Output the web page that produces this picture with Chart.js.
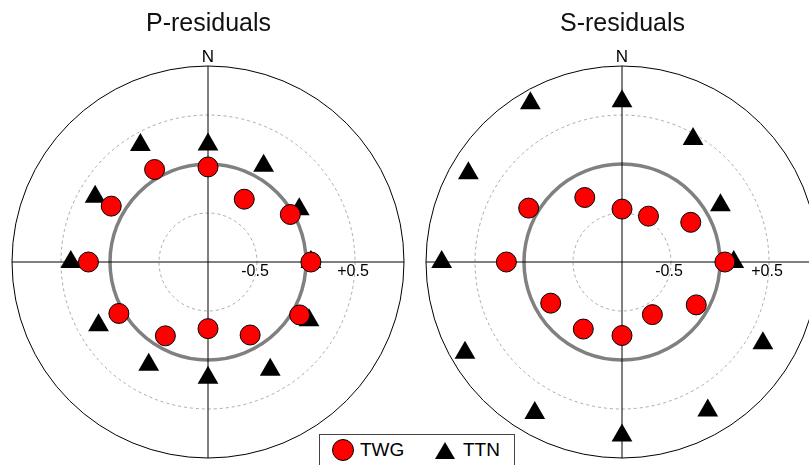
<!DOCTYPE html>
<html lang="en">
<head>
<meta charset="UTF-8" />
<title>P- and S-residuals</title>
<style>
  html, body {
    margin: 0;
    padding: 0;
    width: 809px;
    height: 465px;
    overflow: hidden;
    background: #fff;
    font-family: 'Liberation Sans', Arial, sans-serif;
  }
  canvas {
    position: absolute;
    top: 0;
  }
  #chartP { left: 0; }
  #chartS { left: 414px; }
  #legend {
    position: absolute;
    left: 319px;
    top: 434px;
    width: 194px;
    height: 40px;
    border: 1px solid #444;
    background: #fff;
  }
  #legend .dot {
    position: absolute;
    left: 12px;
    top: 4px;
    width: 20px;
    height: 20px;
    border-radius: 50%;
    background: #ff0000;
    border: 1px solid #000;
  }
  #legend .tri {
    position: absolute;
    left: 115px;
    top: 7px;
    width: 0;
    height: 0;
    border-left: 10px solid transparent;
    border-right: 10px solid transparent;
    border-bottom: 17px solid #000;
  }
  #legend .txt {
    position: absolute;
    top: 4px;
    font-size: 19px;
    line-height: 22px;
    color: #000;
  }
</style>
</head>
<body>
<canvas id="chartP" width="417" height="465"></canvas>
<canvas id="chartS" width="417" height="465"></canvas>
<div id="legend">
  <span class="dot"></span><span class="txt" style="left:40px">TWG</span>
  <span class="tri"></span><span class="txt" style="left:143px">TTN</span>
</div>
<script src="https://cdn.jsdelivr.net/npm/chart.js@4.4.0/dist/chart.umd.min.js"></script>
<script>
  // azimuth of each station (degrees from north)
  const azimuths = [0, 30, 60, 90, 120, 150, 180, 210, 240, 270, 300, 330];

  // P residuals
  const pTWG = [-0.03, -0.26, -0.03, 0.05, 0.08, -0.14, -0.32, -0.13, 0.05, 0.22, 0.14, 0.09];
  const pTTN = [0.20, 0.135, 0.075, 0.05, 0.19, 0.27, 0.18, 0.21, 0.29, 0.40, 0.33, 0.38];

  // S residuals
  const sTWG = [-0.46, -0.46, -0.19, 0.05, -0.125, -0.38, -0.25, -0.21, -0.16, 0.18, 0.10, -0.24];
  const sTTN = [0.64, 0.45, 0.16, 0.14, 0.66, 0.75, 0.77, 0.78, 0.85, 0.84, 0.81, 0.87];

  const tickValues = [-0.5, 0.5];
  const tickLabels = ['-0.5', '+0.5'];

  Chart.defaults.font.family = "'Liberation Sans', Arial, sans-serif";
  Chart.defaults.color = '#000';

  // N label and the -0.5 / +0.5 labels along the east axis
  const annotations = {
    id: 'annotations',
    beforeDatasetsDraw(chart) {
      const s = chart.scales.r;
      const ctx = chart.ctx;
      ctx.save();
      ctx.fillStyle = '#000';
      ctx.textAlign = 'center';
      ctx.textBaseline = 'middle';
      ctx.font = "17px 'Liberation Sans', Arial, sans-serif";
      ctx.fillText('N', s.xCenter, s.yCenter - s.drawingArea - 9);
      ctx.font = "16px 'Liberation Sans', Arial, sans-serif";
      tickValues.forEach((v, i) => {
        const d = s.getDistanceFromCenterForValue(v);
        ctx.fillText(tickLabels[i], s.xCenter + d - 2, s.yCenter + 10);
      });
      ctx.restore();
    }
  };

  function makeChart(id, title, twg, ttn) {
    return new Chart(document.getElementById(id), {
      type: 'radar',
      data: {
        labels: azimuths,
        datasets: [
          {
            label: 'TWG',
            data: twg,
            showLine: false,
            fill: false,
            borderColor: 'transparent',
            pointStyle: 'circle',
            pointRadius: 10,
            pointBackgroundColor: '#ff0000',
            pointBorderColor: '#000',
            pointBorderWidth: 1
          },
          {
            label: 'TTN',
            data: ttn,
            showLine: false,
            fill: false,
            borderColor: 'transparent',
            pointStyle: 'triangle',
            pointRadius: 12,
            pointBackgroundColor: '#000',
            pointBorderColor: '#000',
            pointBorderWidth: 0
          }
        ]
      },
      options: {
        responsive: false,
        animation: false,
        layout: { padding: { left: 12, right: 12, top: 0, bottom: 6 } },
        scales: {
          r: {
            min: -1,
            max: 1,
            startAngle: 0,
            ticks: { display: false, stepSize: 0.5 },
            pointLabels: { display: false },
            grid: {
              circular: true,
              color: (c) => {
                const v = c.tick ? c.tick.value : 0;
                if (v === -1) return 'transparent';
                if (v === 0) return '#808080';
                if (v === 1) return '#000';
                return '#aaa';
              },
              lineWidth: (c) => (c.tick && c.tick.value === 0 ? 3.5 : 1)
            },
            border: {
              dash: (c) => (c.tick && Math.abs(c.tick.value) === 0.5 ? [3, 3] : [])
            },
            angleLines: {
              color: (c) => (c.index % 3 === 0 ? '#000' : 'transparent'),
              lineWidth: 1
            }
          }
        },
        plugins: {
          legend: { display: false },
          tooltip: { enabled: false },
          title: {
            display: true,
            text: title,
            color: '#111',
            font: { size: 25, weight: 'normal' },
            padding: { top: 9, bottom: 27 }
          }
        }
      },
      plugins: [annotations]
    });
  }

  makeChart('chartP', 'P-residuals', pTWG, pTTN);
  makeChart('chartS', 'S-residuals', sTWG, sTTN);
</script>
</body>
</html>
